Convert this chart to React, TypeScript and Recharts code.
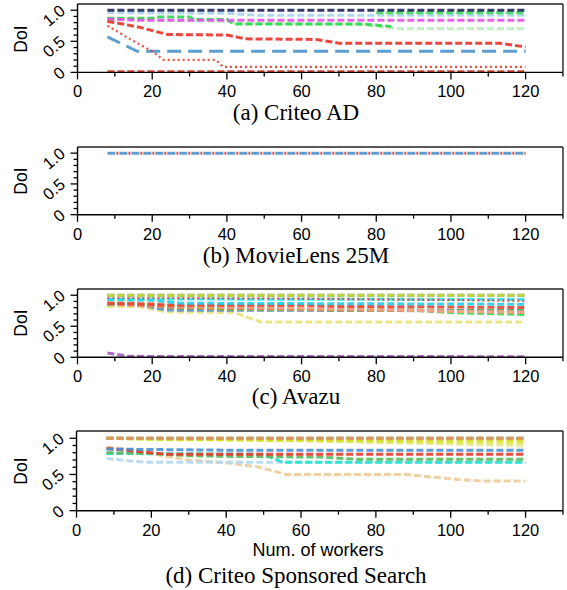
import React from 'react';
import { LineChart, Line, XAxis, YAxis, ReferenceLine } from 'recharts';

// ---------- shared axis values ----------
const X_TICKS = [0, 10, 20, 30, 40, 50, 60, 70, 80, 90, 100, 110, 120, 130];
const X_LABELED = [0, 20, 40, 60, 80, 100, 120];
const Y_TICKS = [0, 0.1, 0.2, 0.3, 0.4, 0.5, 0.6, 0.7, 0.8, 0.9, 1.0];
const Y_LABELED = ['0', '0.5', '1.0'];
const CAPTIONS = ['(a) Criteo AD', '(b) MovieLens 25M', '(c) Avazu', '(d) Criteo Sponsored Search'];
const X_TITLE = 'Num. of workers';
const Y_TITLE = 'DoI';

type P = [number, number][];

// ---------- (a) Criteo AD : [workers, DoI] ----------
const A_NAVY: P = [[8, 1.0], [120, 1.0]];
const A_LIGHTBLUE: P = [[8, 0.96], [40, 0.95], [48, 0.92], [120, 0.92]];
const A_LIME: P = [[80, 0.96], [120, 0.96]];
const A_PALEGREEN: P = [[8, 0.85], [40, 0.82], [44, 0.79], [76, 0.77], [86, 0.7], [120, 0.7]];
const A_GREEN: P = [[8, 0.87], [20, 0.87], [21, 0.89], [30, 0.89], [31, 0.85], [40, 0.85], [42, 0.78], [76, 0.78], [84, 0.74]];
const A_MAGENTA: P = [[8, 0.86], [16, 0.84], [120, 0.84]];
const A_RED: P = [[8, 0.82], [12, 0.78], [17, 0.72], [24, 0.61], [40, 0.6], [45, 0.54], [64, 0.53], [70, 0.47], [113, 0.47], [120, 0.41]];
const A_BLUE: P = [[8, 0.57], [16, 0.34], [120, 0.34]];
const A_DOTTED: P = [[8, 0.75], [12, 0.61], [16, 0.47], [20, 0.34], [23, 0.2], [37, 0.2], [39, 0.09], [120, 0.09]];
const A_ZERO: P = [[8, 0.01], [120, 0.01]];

// ---------- (b) MovieLens 25M ----------
const B_BLUE: P = [[8, 1.0], [120, 1.0]];
const B_RED: P = [[8, 1.0], [120, 1.0]];

// ---------- (c) Avazu ----------
const C_KHAKI: P = [[8, 0.82], [16, 0.82], [24, 0.73], [42, 0.72], [49, 0.57], [120, 0.57]];
const C_STEEL: P = [[8, 0.85], [16, 0.85], [24, 0.76], [120, 0.75]];
const C_DKGREEN: P = [[8, 0.87], [16, 0.87], [24, 0.8], [40, 0.77], [120, 0.75]];
const C_GREEN: P = [[8, 0.86], [16, 0.86], [24, 0.82], [40, 0.79], [60, 0.77], [90, 0.76], [100, 0.72], [120, 0.69]];
const C_ORANGE: P = [[8, 0.86], [28, 0.8], [60, 0.77], [90, 0.75], [120, 0.72]];
const C_SALMON: P = [[8, 0.88], [20, 0.87], [28, 0.83], [60, 0.8], [80, 0.78], [100, 0.74], [120, 0.73]];
const C_RED: P = [[8, 0.87], [16, 0.86], [24, 0.84], [60, 0.84], [70, 0.82], [100, 0.81], [120, 0.8]];
const C_CYAN2: P = [[8, 0.93], [20, 0.92], [28, 0.87], [120, 0.855]];
const C_CYAN: P = [[8, 0.94], [120, 0.93]];
const C_DOTTED: P = [[8, 0.96], [60, 0.945], [120, 0.91]];
const C_PALE: P = [[8, 0.99], [120, 0.99]];
const C_BLUE: P = [[8, 1.0], [120, 1.0]];
const C_YGREEN: P = [[8, 1.0], [120, 1.0]];
const C_PURPLE: P = [[8, 0.07], [14, 0.015], [120, 0.01]];

// ---------- (d) Criteo Sponsored Search ----------
const D_TAN: P = [[8, 0.88], [12, 0.86], [18, 0.81], [24, 0.75], [30, 0.7], [40, 0.66], [48, 0.61], [56, 0.5], [88, 0.5], [96, 0.46], [102, 0.43], [108, 0.41], [120, 0.41]];
const D_LIGHTBLUE: P = [[8, 0.72], [18, 0.67], [120, 0.67]];
const D_CYAN: P = [[8, 0.79], [50, 0.78], [55, 0.67], [120, 0.67]];
const D_GREEN: P = [[8, 0.8], [20, 0.79], [30, 0.76], [40, 0.75], [65, 0.74], [75, 0.71], [120, 0.71]];
const D_RED: P = [[8, 0.86], [14, 0.83], [24, 0.78], [120, 0.78]];
const D_BLUE2: P = [[8, 0.85], [30, 0.84], [40, 0.835], [120, 0.835]];
const D_Y4: P = [[8, 1.0], [60, 0.97], [100, 0.92], [120, 0.89]];
const D_Y3: P = [[8, 1.0], [40, 0.98], [80, 0.95], [120, 0.93]];
const D_Y2: P = [[8, 1.0], [24, 0.98], [120, 0.97]];
const D_YGREEN: P = [[8, 1.0], [120, 1.0]];
const D_BLUE: P = [[8, 1.0], [120, 1.0]];
const D_SALMON: P = [[8, 1.0], [120, 1.0]];

type S = { d: P; c: string; dash?: string; w?: number; off?: number; op?: number };

const PANEL_A: S[] = [
  { d: A_ZERO, c: '#d0321f' },
  { d: A_LIGHTBLUE, c: '#a9d3ec' },
  { d: A_LIME, c: '#3fd85a' },
  { d: A_PALEGREEN, c: '#b9f0b9' },
  { d: A_GREEN, c: '#25d94a' },
  { d: A_MAGENTA, c: '#ee4fee' },
  { d: A_RED, c: '#e8342a' },
  { d: A_BLUE, c: '#4a93cc', dash: '14 7' },
  { d: A_DOTTED, c: '#ef3a2e', dash: '2 3', w: 2.2 },
  { d: A_NAVY, c: '#1e2757' },
];
const PANEL_B: S[] = [
  { d: B_BLUE, c: '#4a93cc', dash: '8 4' },
  { d: B_RED, c: '#ef3a2e', dash: '2 10', off: -9 },
];
const PANEL_C: S[] = [
  { d: C_PURPLE, c: '#a65bbb' },
  { d: C_KHAKI, c: '#e8e27a' },
  { d: C_STEEL, c: '#5a8fcf' },
  { d: C_DKGREEN, c: '#5aae5a' },
  { d: C_GREEN, c: '#35db45' },
  { d: C_ORANGE, c: '#ee8a66' },
  { d: C_SALMON, c: '#f2a58a' },
  { d: C_RED, c: '#e84232' },
  { d: C_CYAN2, c: '#22cde4' },
  { d: C_CYAN, c: '#18e6f2' },
  { d: C_DOTTED, c: '#ef3a2e', dash: '2 3', w: 2.2 },
  { d: C_PALE, c: '#e4e0a0' },
  { d: C_BLUE, c: '#4a8fd6' },
  { d: C_YGREEN, c: '#ccdb2a' },
];
const PANEL_D: S[] = [
  { d: D_TAN, c: '#ebcc98' },
  { d: D_LIGHTBLUE, c: '#b2d6ee' },
  { d: D_CYAN, c: '#20e6cc' },
  { d: D_GREEN, c: '#5cb85c' },
  { d: D_RED, c: '#e83a2a' },
  { d: D_BLUE2, c: '#4a8fd4' },
  { d: D_Y4, c: '#e8e8a0' },
  { d: D_Y3, c: '#e2e452' },
  { d: D_Y2, c: '#d3dc1e' },
  { d: D_BLUE, c: '#4a8fd4' },
  { d: D_YGREEN, c: '#c8d400' },
  { d: D_SALMON, c: '#e0906c' },
];

const SANS = '"Liberation Sans", Arial, Helvetica, sans-serif';
const SERIF = '"Liberation Serif", "Times New Roman", serif';

const XTick = (props: any) => {
  const { x, y, payload } = props;
  const v = payload.value;
  const major = X_LABELED.includes(v);
  return (
    <g>
      <line x1={x} x2={x} y1={y} y2={y + (major ? 7 : 4)} stroke="#000" strokeWidth={1.3} />
      {major && (
        <text x={x} y={y + 25} textAnchor="middle" fontSize={16.5} fontFamily={SANS} fill="#000">
          {v}
        </text>
      )}
    </g>
  );
};

const YTick = (props: any) => {
  const { x, y, payload } = props;
  const v = payload.value;
  const idx = [0, 0.5, 1].findIndex((m) => Math.abs(m - v) < 1e-6);
  const major = idx >= 0;
  const ax = x - 11.3;
  const ay = y + 2.3;
  return (
    <g>
      <line x1={x} x2={x - (major ? 7 : 4)} y1={y} y2={y} stroke="#000" strokeWidth={1.3} />
      {major && (
        <text
          x={ax}
          y={ay}
          textAnchor="end"
          fontSize={16.5}
          fontFamily={SANS}
          fill="#000"
          transform={`rotate(-40 ${ax} ${ay})`}
        >
          {Y_LABELED[idx]}
        </text>
      )}
    </g>
  );
};

const pts = (d: P) => d.map(([x, y]) => ({ x, y }));

function Panel({ plotTop, plotH, yW, series }: { plotTop: number; plotH: number; yW: number; series: S[] }) {
  const mt = 5;
  const xh = 30;
  return (
    <div style={{ position: 'absolute', left: 0, top: plotTop - mt }}>
      <LineChart width={567} height={mt + plotH + xh} margin={{ top: mt, right: 4, left: 0, bottom: 0 }}>
        <XAxis
          type="number"
          dataKey="x"
          domain={[0, 130]}
          ticks={X_TICKS}
          interval={0}
          tickSize={0}
          tickMargin={0}
          tick={<XTick />}
          height={xh}
          axisLine={{ stroke: '#000', strokeWidth: 1.4 }}
          tickLine={false}
          allowDataOverflow
        />
        <YAxis
          type="number"
          domain={[0, 1.1]}
          ticks={Y_TICKS}
          interval={0}
          tickSize={0}
          tickMargin={0}
          tick={<YTick />}
          width={yW}
          axisLine={{ stroke: '#000', strokeWidth: 1.4 }}
          tickLine={false}
          allowDataOverflow
        />
        <ReferenceLine y={1.1} stroke="#222" strokeWidth={1.4} />
        <ReferenceLine x={130} stroke="#222" strokeWidth={1.4} />
        {series.map((s, i) => (
          <Line
            key={i}
            data={pts(s.d)}
            dataKey="y"
            type="linear"
            dot={false}
            activeDot={false}
            stroke={s.c}
            strokeWidth={s.w ?? 3}
            strokeDasharray={s.dash ?? '7 3'}
            strokeDashoffset={s.off ?? 0}
            strokeOpacity={s.op ?? 0.9}
            isAnimationActive={false}
          />
        ))}
      </LineChart>
    </div>
  );
}

const Caption = ({ text, cy }: { text: string; cy: number }) => (
  <div
    style={{
      position: 'absolute',
      left: 96,
      width: 400,
      top: cy - 14,
      height: 28,
      lineHeight: '28px',
      textAlign: 'center',
      fontFamily: SERIF,
      fontSize: 23,
      color: '#000',
      whiteSpace: 'nowrap',
    }}
  >
    {text}
  </div>
);

const YTitle = ({ cy }: { cy: number }) => (
  <div
    style={{
      position: 'absolute',
      left: 21 - 30,
      top: cy - 11,
      width: 60,
      height: 22,
      lineHeight: '22px',
      textAlign: 'center',
      fontFamily: SANS,
      fontSize: 17.5,
      color: '#000',
      transform: 'rotate(-90deg)',
    }}
  >
    {Y_TITLE}
  </div>
);

export default function App() {
  return (
    <div style={{ position: 'absolute', left: 0, top: 0, width: 567, height: 590, background: '#fff', overflow: 'hidden' }}>
      <Panel plotTop={4.3} plotH={68.4} yW={77.5} series={PANEL_A} />
      <Panel plotTop={146.7} plotH={67.7} yW={77.5} series={PANEL_B} />
      <Panel plotTop={288.7} plotH={68.3} yW={77.5} series={PANEL_C} />
      <Panel plotTop={431} plotH={79.7} yW={76.5} series={PANEL_D} />
      <YTitle cy={38.5} />
      <YTitle cy={180.5} />
      <YTitle cy={323} />
      <YTitle cy={471} />
      <Caption text={CAPTIONS[0]} cy={113} />
      <Caption text={CAPTIONS[1]} cy={256} />
      <Caption text={CAPTIONS[2]} cy={397} />
      <Caption text={CAPTIONS[3]} cy={576} />
      <div
        style={{
          position: 'absolute',
          left: 218,
          width: 200,
          top: 539,
          height: 22,
          lineHeight: '22px',
          textAlign: 'center',
          fontFamily: SANS,
          fontSize: 18,
          color: '#000',
        }}
      >
        {X_TITLE}
      </div>
    </div>
  );
}
